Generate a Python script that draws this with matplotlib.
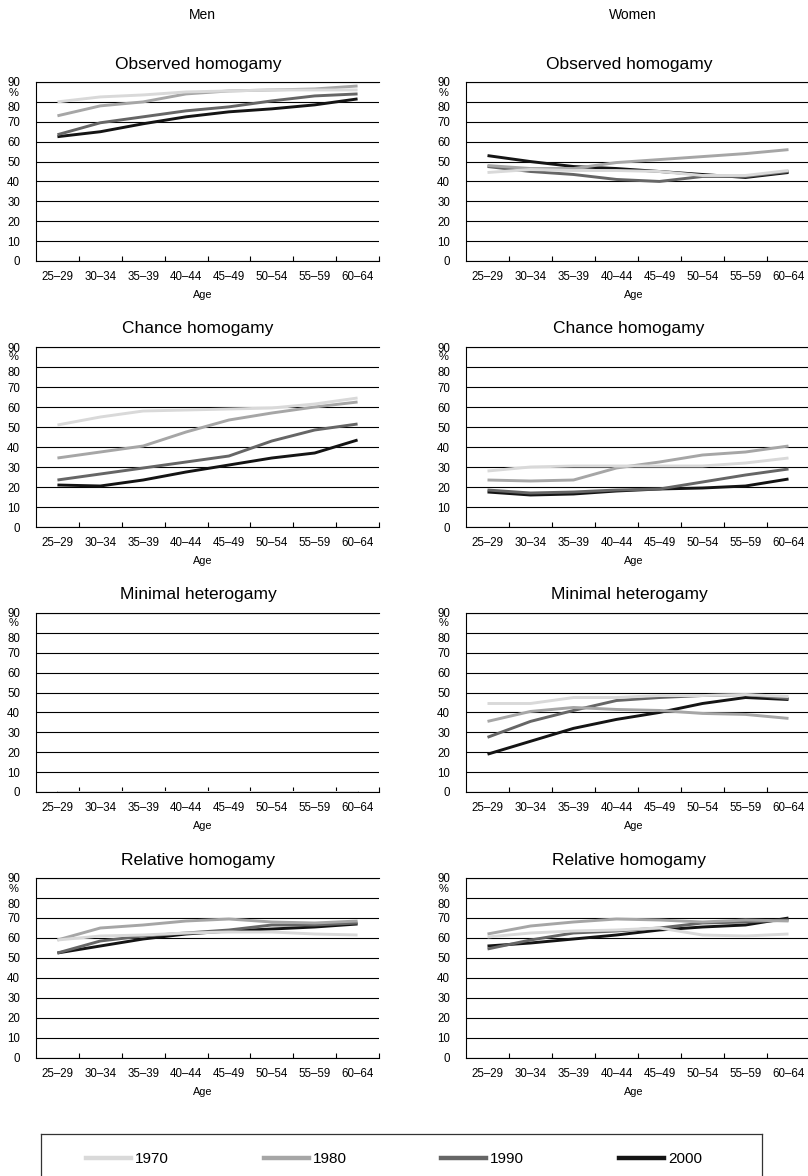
import matplotlib
matplotlib.use("Agg")
import matplotlib.pyplot as plt
from matplotlib.lines import Line2D
from matplotlib.transforms import ScaledTranslation

# ---------------- data ----------------
ages = ["25–29", "30–34", "35–39", "40–44", "45–49", "50–54", "55–59", "60–64"]
years = ["1970", "1980", "1990", "2000"]
colors = ["#d9d9d9", "#a6a6a6", "#666666", "#141414"]

panel_titles = ["Observed homogamy", "Chance homogamy", "Minimal heterogamy", "Relative homogamy"]
column_titles = ["Men", "Women"]

# each panel: rows are 1970, 1980, 1990, 2000
men_observed = [
    [80, 82.5, 83.5, 85, 85.5, 86, 86, 86],
    [73, 78, 80, 84, 85.5, 86, 86.5, 88],
    [63.5, 69.5, 72.5, 75.5, 77.5, 80.5, 83, 84],
    [62.5, 65, 69, 72.5, 75, 76.5, 78.5, 81.5],
]
women_observed = [
    [44.5, 46, 45.5, 45.5, 45, 43, 43, 45.5],
    [48, 46.5, 46.5, 49.5, 51, 52.5, 54, 56],
    [47.5, 45, 43.5, 41, 40, 42.5, 42.5, 45],
    [53, 50, 47.5, 46.5, 45, 43.5, 42, 44.5],
]
men_chance = [
    [51, 55, 58, 58.5, 59, 59.5, 61.5, 64.5],
    [34.5, 37.5, 40.5, 47.5, 53.5, 57, 60, 62.5],
    [23.5, 26.5, 29.5, 32.5, 35.5, 43, 48.5, 51.5],
    [21, 20.5, 23.5, 27.5, 31, 34.5, 37, 43.5],
]
women_chance = [
    [28, 30, 30.5, 30.5, 30.5, 30.5, 32, 34.5],
    [23.5, 23, 23.5, 29.5, 32.5, 36, 37.5, 40.5],
    [18.5, 17, 17.5, 18.5, 19, 22.5, 26, 29],
    [17.5, 16, 16.5, 18, 19, 19.5, 20.5, 24],
]
men_minimal = [
    [0, 0, 0, 0, 0, 0, 0, 0],
    [0, 0, 0, 0, 0, 0, 0, 0],
    [0, 0, 0, 0, 0, 0, 0, 0],
    [0, 0, 0, 0, 0, 0, 0, 0],
]
women_minimal = [
    [44.5, 44.5, 47.5, 47.5, 48.5, 48.5, 49, 48],
    [35.5, 40.5, 42.5, 41.5, 41, 39.5, 39, 37],
    [27.5, 35.5, 41, 46, 47.5, 48.5, 49, 47],
    [19, 25.5, 32, 36.5, 40, 44.5, 47.5, 46.5],
]
men_relative = [
    [59, 61, 61.5, 62.5, 63, 63, 62, 61.5],
    [59, 65, 66.5, 68.5, 69.5, 68, 67.5, 68.5],
    [52.5, 58.5, 61, 62.5, 64, 66.5, 66.5, 67.5],
    [52.5, 56, 59.5, 62, 63.5, 64.5, 65.5, 67],
]
women_relative = [
    [60.5, 62.5, 63.5, 64, 65, 61.5, 61, 62],
    [62, 66, 68, 69.5, 69, 68, 69, 68.5],
    [54.5, 59, 62.5, 63.5, 65, 67.5, 68, 69],
    [56, 57.5, 59.5, 61.5, 64, 65.5, 66.5, 70],
]
men_panels = [men_observed, men_chance, men_minimal, men_relative]
women_panels = [women_observed, women_chance, women_minimal, women_relative]
yticks = list(range(0, 91, 10))

# ---------------- layout ----------------
W, H = 808, 1176
plt.rcParams["font.family"] = ["Liberation Sans", "DejaVu Sans"]

fig = plt.figure(figsize=(W / 100, H / 100), dpi=100)

rows_px = [(82, 261), (347, 527), (613, 792), (878, 1058)]
cols_px = [(36, 343), (466, 344)]
title_x_px = [198, 629]


def fx(px):
    return px / W


def fy(py):
    return 1 - py / H


down5 = ScaledTranslation(0, -5 / 100, fig.dpi_scale_trans)

for c, panels in enumerate([men_panels, women_panels]):
    left, width = cols_px[c]
    fig.text(fx(title_x_px[c] + 4), fy(15), column_titles[c], ha="center", va="center", fontsize=10)
    for r, data in enumerate(panels):
        top, bottom = rows_px[r]
        ax = fig.add_axes([fx(left), fy(bottom), width / W, (bottom - top) / H])
        x = list(range(len(ages)))
        for i in reversed(range(len(years))):
            ax.plot(x, data[i], color=colors[i], lw=2.1, solid_capstyle="butt", zorder=3 + (3 - i))
        ax.set_xlim(-0.5, 7.5)
        ax.set_ylim(0, 90)
        ax.yaxis.grid(True, color="black", lw=0.8)
        ax.set_axisbelow(True)
        ax.spines["right"].set_visible(False)
        for s in ["top", "left", "bottom"]:
            ax.spines[s].set_linewidth(0.8)
        ax.set_xticks(x)
        ax.set_xticklabels(ages)
        ax.set_xticks([i + 0.5 for i in range(len(ages))], minor=True)
        ax.tick_params(axis="x", which="major", length=0, pad=7, labelsize=8.3)
        ax.tick_params(axis="x", which="minor", direction="in", length=3.5, width=0.8)
        ax.tick_params(axis="y", length=0, pad=11.5, labelsize=8.3)
        ax.set_yticks(yticks)
        ax.set_yticklabels([str(v) for v in yticks])
        for lab in ax.get_yticklabels():
            if lab.get_text() == "80":
                lab.set_transform(lab.get_transform() + down5)
        fig.text(fx(title_x_px[c]), fy(top - 18), panel_titles[r], ha="center", va="center", fontsize=12.5)
        fig.text(fx(title_x_px[c] + 5), fy(bottom + 34), "Age", ha="center", va="center", fontsize=7.8)
        fig.text(fx(left - 22), fy(top + 10.5), "%", ha="center", va="center", fontsize=8)

# legend box (bottom edge runs past the image, as in the reference)
lax = fig.add_axes([fx(41), fy(1195), fx(762 - 41), (1195 - 1134) / H])
lax.set_xticks([])
lax.set_yticks([])
for s in lax.spines.values():
    s.set_linewidth(0.9)
    s.set_color("#333333")
handles = [Line2D([0], [0], color=colors[i], lw=3.2) for i in range(len(years))]
fig.legend(handles, years, loc="center", ncol=4, frameon=False, fontsize=11,
           handlelength=2.95, handletextpad=0.26, columnspacing=6.2,
           bbox_to_anchor=(fx(394), fy(1159)), bbox_transform=fig.transFigure)

fig.savefig("out.png", dpi=100)
